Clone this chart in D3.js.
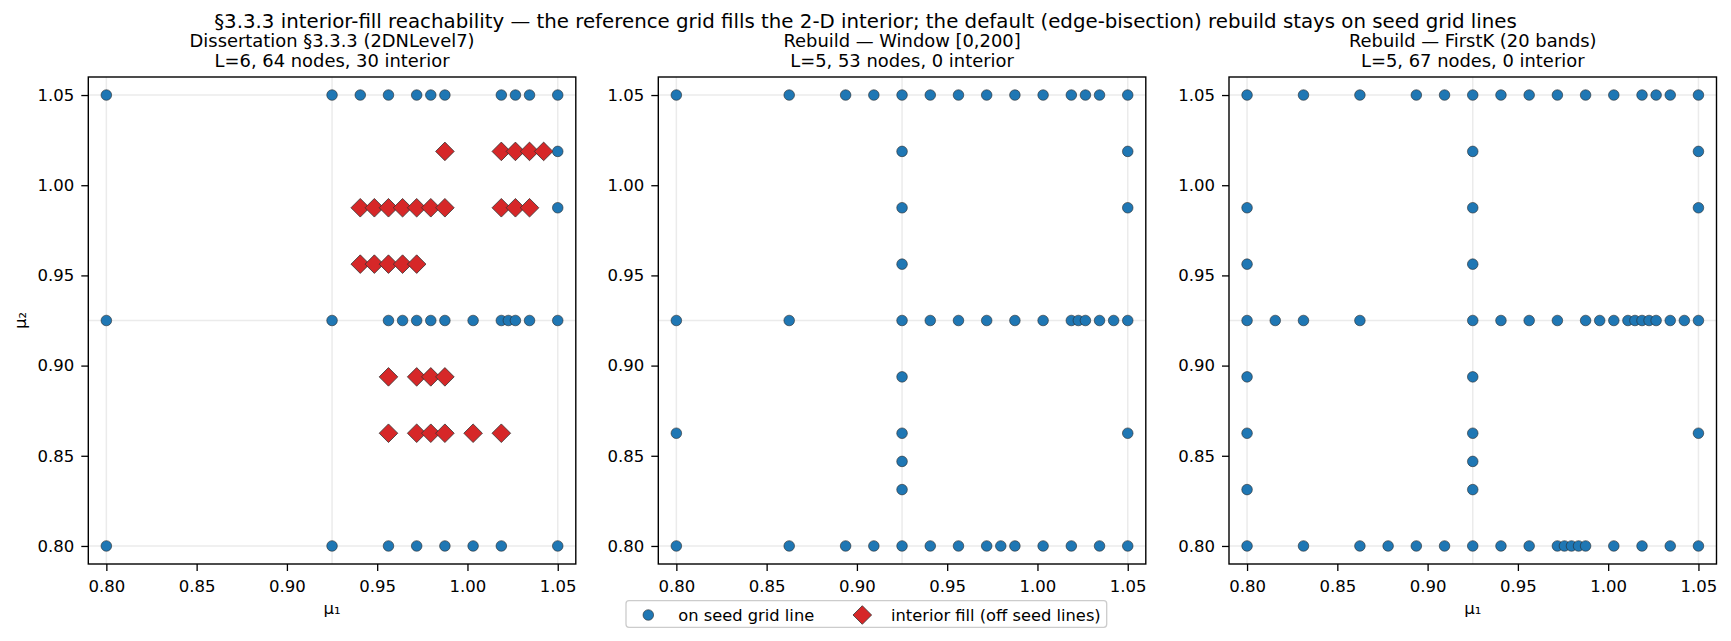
<!DOCTYPE html>
<html>
<head>
<meta charset="utf-8">
<script src="https://cdn.jsdelivr.net/npm/d3@7"></script>
<style>
  body { margin: 0; background: #fff; }
  svg text { font-family: "DejaVu Sans", sans-serif; fill: #000; }
</style>
</head>
<body>
<svg id="fig" width="1731" height="641"></svg>
<script>
// seed grid lines (drawn as faint guides) and tick labels
const seedLines = [0.8, 0.925, 1.05];
const tickValues = [0.80, 0.85, 0.90, 0.95, 1.00, 1.05];

// rows of nodes: [μ2, [μ1 values]]
const dissSeed = [
  [1.05, [0.8, 0.925, 0.940625, 0.95625, 0.971875, 0.9796875, 0.9875, 1.01875, 1.0265625, 1.034375, 1.05]],
  [1.01875, [1.05]],
  [0.9875, [1.05]],
  [0.925, [0.8, 0.925, 0.95625, 0.9640625, 0.971875, 0.9796875, 0.9875, 1.003125, 1.01875, 1.02265625, 1.0265625, 1.034375, 1.05]],
  [0.8, [0.8, 0.925, 0.95625, 0.971875, 0.9875, 1.003125, 1.01875, 1.05]]
];
const dissInterior = [
  [1.01875, [0.9875, 1.01875, 1.0265625, 1.034375, 1.0421875]],
  [0.9875, [0.940625, 0.9484375, 0.95625, 0.9640625, 0.971875, 0.9796875, 0.9875, 1.01875, 1.0265625, 1.034375]],
  [0.95625, [0.940625, 0.9484375, 0.95625, 0.9640625, 0.971875]],
  [0.89375, [0.95625, 0.971875, 0.9796875, 0.9875]],
  [0.8625, [0.95625, 0.971875, 0.9796875, 0.9875, 1.003125, 1.01875]]
];
const windowSeed = [
  [1.05, [0.8, 0.8625, 0.89375, 0.909375, 0.925, 0.940625, 0.95625, 0.971875, 0.9875, 1.003125, 1.01875, 1.0265625, 1.034375, 1.05]],
  [1.01875, [0.925, 1.05]],
  [0.9875, [0.925, 1.05]],
  [0.95625, [0.925]],
  [0.925, [0.8, 0.8625, 0.925, 0.940625, 0.95625, 0.971875, 0.9875, 1.003125, 1.01875, 1.02265625, 1.0265625, 1.034375, 1.0421875, 1.05]],
  [0.89375, [0.925]],
  [0.8625, [0.8, 0.925, 1.05]],
  [0.846875, [0.925]],
  [0.83125, [0.925]],
  [0.8, [0.8, 0.8625, 0.89375, 0.909375, 0.925, 0.940625, 0.95625, 0.971875, 0.9796875, 0.9875, 1.003125, 1.01875, 1.034375, 1.05]]
];
const firstKSeed = [
  [1.05, [0.8, 0.83125, 0.8625, 0.89375, 0.909375, 0.925, 0.940625, 0.95625, 0.971875, 0.9875, 1.003125, 1.01875, 1.0265625, 1.034375, 1.05]],
  [1.01875, [0.925, 1.05]],
  [0.9875, [0.8, 0.925, 1.05]],
  [0.95625, [0.8, 0.925]],
  [0.925, [0.8, 0.815625, 0.83125, 0.8625, 0.925, 0.940625, 0.95625, 0.971875, 0.9875, 0.9953125, 1.003125, 1.0109375, 1.01484375, 1.01875, 1.02265625, 1.0265625, 1.034375, 1.0421875, 1.05]],
  [0.89375, [0.8, 0.925]],
  [0.8625, [0.8, 0.925, 1.05]],
  [0.846875, [0.925]],
  [0.83125, [0.8, 0.925]],
  [0.8, [0.8, 0.83125, 0.8625, 0.878125, 0.89375, 0.909375, 0.925, 0.940625, 0.95625, 0.971875, 0.97578125, 0.9796875, 0.98359375, 0.9875, 1.003125, 1.01875, 1.034375, 1.05]]
];

const panelTitles = [
  ['Dissertation §3.3.3 (2DNLevel7)', 'L=6, 64 nodes, 30 interior'],
  ['Rebuild — Window [0,200]', 'L=5, 53 nodes, 0 interior'],
  ['Rebuild — FirstK (20 bands)', 'L=5, 67 nodes, 0 interior']
];
const panelSeed = [dissSeed, windowSeed, firstKSeed];
const panelInterior = [dissInterior, [], []];
const panelXLabel = [true, false, true];

const flat = rows => rows.flatMap(([y, xs]) => xs.map(x => ({ x, y })));

const svg = d3.select('#fig');
const W = 1731;
const lefts = [88.3, 658.3, 1229], pw = 487.5, ptop = 77, ph = 487;
const blue = '#1f77b4', red = '#d62728';
const diamond = r => `M0,${-r} L${r},0 L0,${r} L${-r},0 Z`;

svg.append('text').attr('x', W / 2).attr('y', 27.5).attr('text-anchor', 'middle')
  .attr('font-size', 19.8)
  .text('§3.3.3 interior-fill reachability — the reference grid fills the 2-D interior; the default (edge-bisection) rebuild stays on seed grid lines');

lefts.forEach((left, i) => {
  const x = d3.scaleLinear().domain([0.79, 1.06]).range([0, pw]);
  const y = d3.scaleLinear().domain([0.79, 1.06]).range([ph, 0]);
  const g = svg.append('g').attr('transform', `translate(${left},${ptop})`);

  // seed guide lines
  g.selectAll('line.vs').data(seedLines).enter().append('line')
    .attr('x1', d => x(d)).attr('x2', d => x(d)).attr('y1', 0).attr('y2', ph)
    .attr('stroke', '#ebebeb').attr('stroke-width', 1.5);
  g.selectAll('line.hs').data(seedLines).enter().append('line')
    .attr('y1', d => y(d)).attr('y2', d => y(d)).attr('x1', 0).attr('x2', pw)
    .attr('stroke', '#ebebeb').attr('stroke-width', 1.5);

  g.selectAll('circle.seed').data(flat(panelSeed[i])).enter().append('circle')
    .attr('cx', d => x(d.x)).attr('cy', d => y(d.y)).attr('r', 5.3)
    .attr('fill', blue).attr('stroke', '#2b2b2b').attr('stroke-width', 0.6);
  g.selectAll('path.int').data(flat(panelInterior[i])).enter().append('path')
    .attr('d', diamond(9.3)).attr('transform', d => `translate(${x(d.x)},${y(d.y)})`)
    .attr('fill', red).attr('stroke', '#333').attr('stroke-width', 0.8);

  // axes
  const xa = g.append('g').attr('transform', `translate(0,${ph})`)
    .call(d3.axisBottom(x).tickValues(tickValues).tickFormat(d3.format('.2f')).tickSize(7).tickPadding(9.5));
  const ya = g.append('g')
    .call(d3.axisLeft(y).tickValues(tickValues).tickFormat(d3.format('.2f')).tickSize(7).tickPadding(7));
  [xa, ya].forEach(a => {
    a.select('.domain').remove();
    a.selectAll('line').attr('stroke', '#000').attr('stroke-width', 1.3);
    a.selectAll('text').attr('font-size', 16.5).attr('font-family', '"DejaVu Sans", sans-serif').attr('fill', '#000');
  });
  g.append('rect').attr('width', pw).attr('height', ph)
    .attr('fill', 'none').attr('stroke', '#000').attr('stroke-width', 1.4);

  // titles
  g.append('text').attr('x', pw / 2).attr('y', 46.5 - ptop).attr('text-anchor', 'middle')
    .attr('font-size', 17.9).text(panelTitles[i][0]);
  g.append('text').attr('x', pw / 2).attr('y', 66.9 - ptop).attr('text-anchor', 'middle')
    .attr('font-size', 17.9).text(panelTitles[i][1]);

  if (panelXLabel[i]) {
    g.append('text').attr('x', pw / 2).attr('y', 614 - ptop).attr('text-anchor', 'middle')
      .attr('font-size', 16.5).text('μ₁');
  }
  if (i === 0) {
    svg.append('text').attr('transform', `translate(25.5,${ptop + ph / 2}) rotate(-90)`)
      .attr('text-anchor', 'middle').attr('font-size', 16.5).text('μ₂');
  }
});

// legend
const lg = svg.append('g');
lg.append('rect').attr('x', 626).attr('y', 600.7).attr('width', 480.7).attr('height', 26.6)
  .attr('rx', 3).attr('fill', '#fff').attr('stroke', '#cccccc').attr('stroke-width', 1.3);
lg.append('circle').attr('cx', 648.3).attr('cy', 615).attr('r', 5.3)
  .attr('fill', blue).attr('stroke', '#2b2b2b').attr('stroke-width', 0.6);
lg.append('text').attr('x', 678.3).attr('y', 620.5).attr('font-size', 16.3).text('on seed grid line');
lg.append('path').attr('d', diamond(9.3)).attr('transform', 'translate(862.3,615)')
  .attr('fill', red).attr('stroke', '#333').attr('stroke-width', 0.8);
lg.append('text').attr('x', 891).attr('y', 620.5).attr('font-size', 16.3).text('interior fill (off seed lines)');
</script>
</body>
</html>
